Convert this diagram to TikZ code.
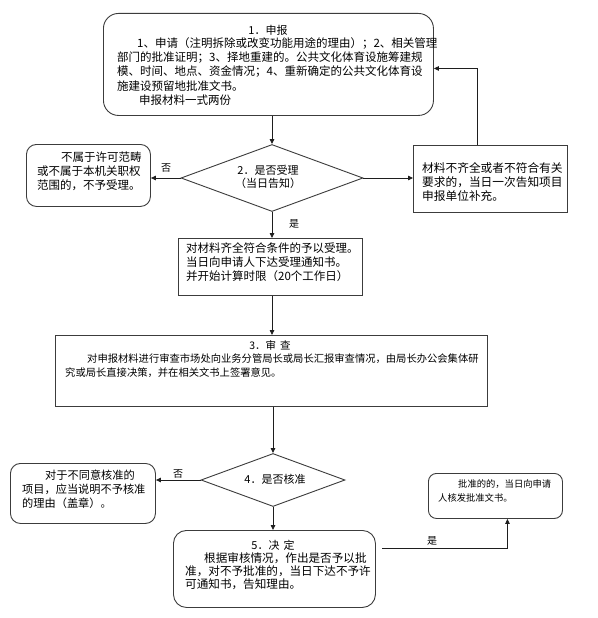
\documentclass[tikz,border=0pt]{standalone}
\usepackage{fontspec}
\newfontfamily\cjk{Noto Sans CJK SC}
\usetikzlibrary{shapes.geometric,arrows.meta,calc}
\definecolor{boxc}{RGB}{60,60,60}
\definecolor{linec}{RGB}{30,30,30}
\begin{document}
\begin{tikzpicture}[x=1pt,y=-1pt,
  box/.style={draw=boxc,line width=0.9pt,inner sep=0pt,anchor=north west},
  rbox/.style={box,rounded corners=12pt},
  dia/.style={draw=boxc,line width=0.9pt,diamond,inner sep=0pt},
  txt/.style={inner sep=0pt,align=left,anchor=west,font=\cjk\fontsize{11.5}{14}\selectfont},
  ttl/.style={inner sep=0pt,align=center,anchor=center,font=\cjk\fontsize{11}{14}\selectfont},
  lbl/.style={inner sep=0pt,anchor=center,font=\cjk\fontsize{10}{12}\selectfont},
  arr/.style={draw=linec,line width=0.8pt,-{Triangle[length=5pt,width=4.5pt]}}
]
\fill[white] (0,0) rectangle (597,618);
\useasboundingbox (0,0) rectangle (597,618);

% boxes
\node[rbox,rounded corners=15pt,minimum width=330pt,minimum height=102pt] (b1) at (103,13) {};
\node[ttl] (b1t) at (268,30) {1．申报};
\node[txt,font=\cjk\fontsize{11.5}{14.25}\selectfont] (b1x) at (117,71.5) {\hspace*{20pt}1、申请（注明拆除或改变功能用途的理由）；2、相关管理\\部门的批准证明；3、择地重建的。公共文化体育设施筹建规\\模、时间、地点、资金情况；4、重新确定的公共文化体育设\\施建设预留地批准文书。\\\hspace*{22pt}申报材料一式两份};

\node[dia,minimum width=182pt,minimum height=67pt] (d2) at (272,178) {};
\node[ttl,font=\cjk\fontsize{11}{12.5}\selectfont] (d2t) at (268,177) {2．是否受理\\（当日告知）};

\node[rbox,rounded corners=10pt,minimum width=124pt,minimum height=62pt] (nl) at (26,144) {};
\node[txt] (nlt) at (37,171) {\hspace*{24pt}不属于许可范畴\\或不属于本机关职权\\范围的，不予受理。};

\node[box,minimum width=154pt,minimum height=67pt] (nr) at (413,145) {};
\node[txt,font=\cjk\fontsize{11.7}{14}\selectfont] (nrt) at (422,182) {材料不齐全或者不符合有关\\要求的，当日一次告知项目\\申报单位补充。};

\node[box,minimum width=184pt,minimum height=57pt] (acc) at (178,238) {};
\node[txt] (acct) at (186,262) {对材料齐全符合条件的予以受理。\\当日向申请人下达受理通知书。\\并开始计算时限（20个工作日）};

\node[box,minimum width=432pt,minimum height=71pt] (b3) at (55,335) {};
\node[ttl,font=\cjk\fontsize{10.5}{12}\selectfont] (b3t) at (270,345) {3．审\hspace{4pt}查};
\node[txt,font=\cjk\fontsize{10.3}{14}\selectfont] (b3x) at (65,366) {\hspace*{22pt}对申报材料进行审查市场处向业务分管局长或局长汇报审查情况，由局长办公会集体研\\究或局长直接决策，并在相关文书上签署意见。};

\node[dia,minimum width=144pt,minimum height=53pt] (d4) at (273,480) {};
\node[ttl] (d4t) at (275,479) {4．是否核准};

\node[rbox,rounded corners=10pt,minimum width=145pt,minimum height=60pt] (n4) at (10,463) {};
\node[txt,font=\cjk\fontsize{11.2}{14}\selectfont] (n4t) at (22,489) {\hspace*{23pt}对于不同意核准的\\项目，应当说明不予核准\\的理由（盖章）。};

\node[rbox,rounded corners=8pt,minimum width=134pt,minimum height=45pt] (ap) at (428,473) {};
\node[txt,font=\cjk\fontsize{9.3}{14}\selectfont] (apt) at (438,491) {\hspace*{20pt}批准的的，当日向申请\\人核发批准文书。};

\node[rbox,rounded corners=13pt,minimum width=202pt,minimum height=77pt] (b5) at (173,530) {};
\node[ttl] (b5t) at (273,545) {5．决\hspace{4pt}定};
\node[txt,font=\cjk\fontsize{11.6}{13}\selectfont] (b5x) at (185,571) {\hspace*{19pt}根据审核情况，作出是否予以批\\准，对不予批准的，当日下达不予许\\可通知书，告知理由。};

% connectors
\draw[arr] (d2.north |- b1.south) -- (d2.north);
\draw[arr] (d2.west) -- (nl.east |- d2.west);
\node[lbl] (l1) at (166,168) {否};
\draw[arr] (d2.east) -- (nr.west |- d2.east);
\draw[arr] ([xshift=-13pt]nr.north) |- ([yshift=-4pt]b1.east);
\draw[arr] (d2.south) -- (d2.south |- acc.north);
\node[lbl] (l2) at (294,224) {是};
\draw[arr] (d2.south |- acc.south) -- (d2.south |- b3.north);
\draw[arr] (d4.north |- b3.south) -- (d4.north);
\draw[arr] (d4.west) -- (n4.east |- d4.west);
\node[lbl] (l3) at (178,474) {否};
\draw[arr] (d4.south) -- (d4.south |- b5.north);
\coordinate (c5) at (382,548);
\draw[arr] (c5) -| ([xshift=12pt]ap.south);
\node[lbl] (l4) at (432,541) {是};
\end{tikzpicture}
\end{document}
